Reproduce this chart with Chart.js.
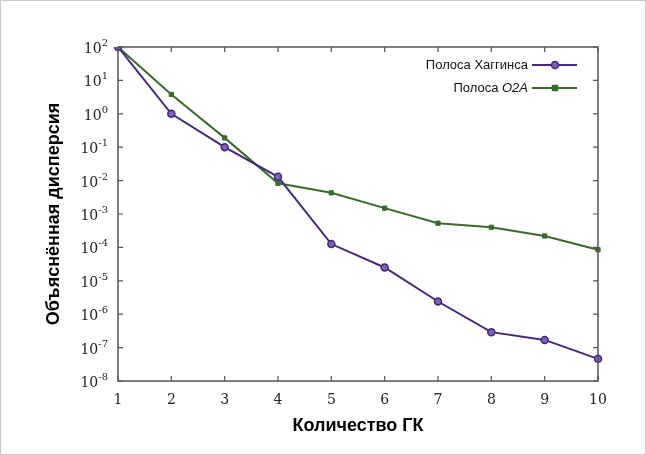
<!DOCTYPE html>
<html>
<head>
    <meta charset="UTF-8">
    <title>Объяснённая дисперсия</title>
    <script src="https://cdn.jsdelivr.net/npm/chart.js"></script>
    <style>
        html, body { margin: 0; padding: 0; background: #fff; }
        #wrap { width: 646px; height: 455px; position: relative; }
    </style>
</head>
<body>
    <div id="wrap"><canvas id="chart" width="646" height="455"></canvas></div>

    <script>
        // data
        const components = ['1', '2', '3', '4', '5', '6', '7', '8', '9', '10'];
        const huggins = [100, 1.0, 0.1, 0.013, 1.26e-4, 2.5e-5, 2.4e-6, 2.9e-7, 1.7e-7, 4.6e-8];
        const o2a = [100, 3.8, 0.19, 0.0083, 0.0043, 0.0015, 5.3e-4, 4.0e-4, 2.2e-4, 8.5e-5];
        const yExponents = [2, 1, 0, -1, -2, -3, -4, -5, -6, -7, -8];

        const purple = '#45287a';
        const green = '#3b6a2d';
        const serif = "'DejaVu Serif', 'Liberation Serif', serif";
        const narrow = "'Liberation Sans Narrow', 'Liberation Sans', Arial, sans-serif";

        // frame, inward ticks, y labels with exponent, legend
        const decorations = {
            id: 'decorations',
            afterDraw(chart) {
                const ctx = chart.ctx;
                const a = chart.chartArea;
                const xs = chart.scales.x;
                const ys = chart.scales.y;
                ctx.save();

                // outer figure border
                ctx.strokeStyle = '#c8c8c8';
                ctx.lineWidth = 1;
                ctx.strokeRect(0.5, 0.5, chart.width - 1, chart.height - 1);

                // plot box
                ctx.strokeStyle = '#555';
                ctx.lineWidth = 1.5;
                ctx.strokeRect(a.left, a.top, a.right - a.left, a.bottom - a.top);

                // inward tick marks
                const len = 5;
                ctx.lineWidth = 1.2;
                ctx.beginPath();
                components.forEach((c, i) => {
                    const px = xs.getPixelForValue(i);
                    ctx.moveTo(px, a.bottom); ctx.lineTo(px, a.bottom - len);
                    ctx.moveTo(px, a.top); ctx.lineTo(px, a.top + len);
                });
                yExponents.forEach(e => {
                    const py = ys.getPixelForValue(Math.pow(10, e));
                    ctx.moveTo(a.left, py); ctx.lineTo(a.left + len, py);
                    ctx.moveTo(a.right, py); ctx.lineTo(a.right - len, py);
                });
                ctx.stroke();

                // y tick labels 10^n
                ctx.fillStyle = '#222';
                ctx.textBaseline = 'alphabetic';
                yExponents.forEach(e => {
                    const py = ys.getPixelForValue(Math.pow(10, e));
                    const exp = String(e);
                    ctx.font = '10px ' + serif;
                    const ew = ctx.measureText(exp).width;
                    const right = a.left - 10;
                    ctx.textAlign = 'left';
                    ctx.fillText(exp, right - ew, py - 1);
                    ctx.font = '14px ' + serif;
                    ctx.textAlign = 'right';
                    ctx.fillText('10', right - ew, py + 6);
                });

                // legend
                const rows = [
                    { parts: [['Полоса Хаггинса', 'normal']], ds: chart.data.datasets[0], y: 65 },
                    { parts: [['Полоса ', 'normal'], ['O2A', 'italic']], ds: chart.data.datasets[1], y: 88 }
                ];
                rows.forEach(r => {
                    let x = 528;
                    ctx.textBaseline = 'middle';
                    ctx.textAlign = 'right';
                    ctx.fillStyle = '#111';
                    for (let k = r.parts.length - 1; k >= 0; k--) {
                        const [txt, style] = r.parts[k];
                        ctx.font = style + ' 13px ' + narrow;
                        ctx.fillText(txt, x, r.y);
                        x -= ctx.measureText(txt).width;
                    }
                    ctx.strokeStyle = r.ds.borderColor;
                    ctx.lineWidth = 2;
                    ctx.beginPath();
                    ctx.moveTo(532, r.y); ctx.lineTo(577, r.y);
                    ctx.stroke();
                    ctx.fillStyle = r.ds.pointBackgroundColor;
                    ctx.strokeStyle = r.ds.pointBorderColor;
                    ctx.lineWidth = 1.5;
                    ctx.beginPath();
                    if (r.ds.pointStyle === 'rect') {
                        ctx.rect(552.5, r.y - 2.5, 5, 5);
                    } else {
                        ctx.arc(555, r.y, 3.5, 0, 2 * Math.PI);
                    }
                    ctx.fill();
                    ctx.stroke();
                });
                ctx.restore();
            }
        };

        new Chart(document.getElementById('chart'), {
            type: 'line',
            data: {
                labels: components,
                datasets: [
                    {
                        label: 'Полоса Хаггинса',
                        data: huggins,
                        borderColor: purple,
                        borderWidth: 2,
                        pointStyle: 'circle',
                        pointRadius: 3.5,
                        pointBackgroundColor: '#7b61b3',
                        pointBorderColor: purple,
                        pointBorderWidth: 1.5,
                        tension: 0
                    },
                    {
                        label: 'Полоса O2A',
                        data: o2a,
                        borderColor: green,
                        borderWidth: 2,
                        pointStyle: 'rect',
                        pointRadius: 3,
                        pointBackgroundColor: green,
                        pointBorderColor: green,
                        pointBorderWidth: 1,
                        tension: 0
                    }
                ]
            },
            options: {
                responsive: false,
                animation: false,
                events: [],
                layout: { padding: { left: 39, right: 48, top: 47, bottom: 14 } },
                plugins: {
                    legend: { display: false },
                    tooltip: { enabled: false }
                },
                scales: {
                    x: {
                        type: 'category',
                        offset: false,
                        grid: { display: false, drawTicks: false },
                        border: { display: false },
                        ticks: {
                            color: '#222',
                            padding: 11,
                            maxRotation: 0,
                            font: { family: serif, size: 14 }
                        },
                        title: {
                            display: true,
                            text: 'Количество ГК',
                            color: '#000',
                            font: { family: narrow, size: 18, weight: 'bold' },
                            padding: { top: 6, bottom: 4 }
                        },
                        afterFit(scale) { scale.height = 60; }
                    },
                    y: {
                        type: 'logarithmic',
                        min: 1e-8,
                        max: 1e2,
                        grid: { display: false, drawTicks: false },
                        border: { display: false },
                        ticks: { display: false },
                        afterBuildTicks(scale) {
                            scale.ticks = yExponents.map(e => ({ value: Math.pow(10, e) }));
                        },
                        title: {
                            display: true,
                            text: 'Объяснённая дисперсия',
                            color: '#000',
                            font: { family: narrow, size: 18, weight: 'bold' },
                            padding: { top: 4, bottom: 4 }
                        },
                        afterFit(scale) { scale.width = 79; }
                    }
                }
            },
            plugins: [decorations]
        });
    </script>
</body>
</html>
